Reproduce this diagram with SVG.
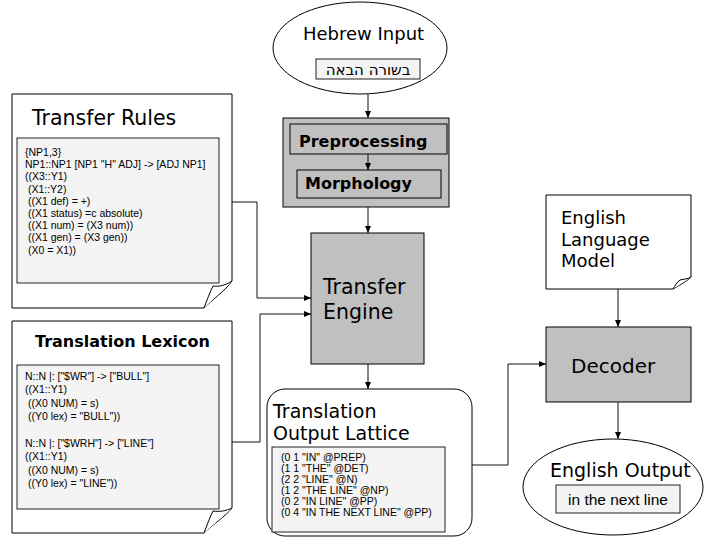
<svg xmlns="http://www.w3.org/2000/svg" width="704" height="539" viewBox="0 0 704 539">
<style>
.shape{stroke:#000;stroke-width:1;fill:#fff}
.gray{fill:#c0c0c0;stroke:#000;stroke-width:1}
.inner{fill:#f4f4f4;stroke:#222;stroke-width:1}
.fold{fill:#fff;stroke:#000;stroke-width:1}
.conn{fill:none;stroke:#111;stroke-width:1}
.big{font-family:"DejaVu Sans",Verdana,sans-serif;fill:#000}
.bold{font-family:"DejaVu Sans",Verdana,sans-serif;font-weight:bold;fill:#000}
.code{font-family:"Liberation Sans",Arial,sans-serif;font-size:10.5px;fill:#000}
</style>
<defs>
<marker id="arr" viewBox="0 0 7 6" refX="7" refY="3" markerWidth="7" markerHeight="6" markerUnits="userSpaceOnUse" orient="auto">
<path d="M0,0 L7,3 L0,6 z" fill="#000"/>
</marker>
</defs>

<g id="hebrew-input">
<ellipse class="shape" cx="360" cy="48" rx="87" ry="46"/>
<text class="big" x="303" y="40" font-size="18">Hebrew Input</text>
<rect class="inner" x="316" y="59" width="104" height="20"/>
<text class="big" x="368" y="75" font-size="15" text-anchor="middle">בשורה הבאה</text>
</g>

<g id="preprocessing-morphology">
<rect class="gray" x="283" y="118" width="166" height="89"/>
<rect class="gray" x="290" y="124" width="157" height="30"/>
<text class="bold" x="299" y="147" font-size="16">Preprocessing</text>
<rect class="gray" x="297" y="170" width="144" height="28"/>
<text class="bold" x="305" y="189" font-size="16">Morphology</text>
</g>

<g id="transfer-rules">
<path class="shape" d="M12,94 H232 V281 C226,290 212,300 204,308 H12 Z"/>
<text class="big" x="32" y="125" font-size="20.5">Transfer Rules</text>
<rect class="inner" x="17" y="138" width="202" height="145"/>
<path class="fold" d="M204,308 C207,300 210,292 213,286 C219,287 226,285 232,281"/>
<text class="code" x="25" y="156">{NP1,3}</text>
<text class="code" x="25" y="168.2">NP1::NP1 [NP1 "H" ADJ] -&gt; [ADJ NP1]</text>
<text class="code" x="25" y="180.4">((X3::Y1)</text>
<text class="code" x="25" y="192.6" xml:space="preserve"> (X1::Y2)</text>
<text class="code" x="25" y="204.8" xml:space="preserve"> ((X1 def) = +)</text>
<text class="code" x="25" y="217" xml:space="preserve"> ((X1 status) =c absolute)</text>
<text class="code" x="25" y="229.2" xml:space="preserve"> ((X1 num) = (X3 num))</text>
<text class="code" x="25" y="241.4" xml:space="preserve"> ((X1 gen) = (X3 gen))</text>
<text class="code" x="25" y="253.6" xml:space="preserve"> (X0 = X1))</text>
</g>

<g id="translation-lexicon">
<path class="shape" d="M12,321 H232 V508 C226,516 212,525 204,533 H12 Z"/>
<text class="bold" x="35" y="347" font-size="16">Translation Lexicon</text>
<rect class="inner" x="17" y="365" width="202" height="144"/>
<path class="fold" d="M204,533 C207,525 210,517 213,511 C219,512 226,511 232,508"/>
<text class="code" x="25" y="380">N::N |: ["$WR"] -&gt; ["BULL"]</text>
<text class="code" x="25" y="393.4">((X1::Y1)</text>
<text class="code" x="25" y="406.8" xml:space="preserve"> ((X0 NUM) = s)</text>
<text class="code" x="25" y="420.2" xml:space="preserve"> ((Y0 lex) = "BULL"))</text>
<text class="code" x="25" y="447">N::N |: ["$WRH"] -&gt; ["LINE"]</text>
<text class="code" x="25" y="460.4">((X1::Y1)</text>
<text class="code" x="25" y="473.8" xml:space="preserve"> ((X0 NUM) = s)</text>
<text class="code" x="25" y="487.2" xml:space="preserve"> ((Y0 lex) = "LINE"))</text>
</g>

<g id="transfer-engine">
<rect class="gray" x="311" y="233" width="113" height="131"/>
<text class="big" x="323" y="294" font-size="20.5">Transfer</text>
<text class="big" x="323" y="319" font-size="20.5">Engine</text>
</g>

<g id="output-lattice">
<rect class="shape" x="267" y="389" width="205" height="147" rx="18" ry="18"/>
<text class="big" x="273" y="418" font-size="19">Translation</text>
<text class="big" x="273" y="440" font-size="19">Output Lattice</text>
<rect class="inner" x="272" y="447" width="173" height="85"/>
<text class="code" x="281" y="461">(0 1 "IN" @PREP)</text>
<text class="code" x="281" y="471.9">(1 1 "THE" @DET)</text>
<text class="code" x="281" y="482.8">(2 2 "LINE" @N)</text>
<text class="code" x="281" y="493.7">(1 2 "THE LINE" @NP)</text>
<text class="code" x="281" y="504.6">(0 2 "IN LINE" @PP)</text>
<text class="code" x="281" y="515.5">(0 4 "IN THE NEXT LINE" @PP)</text>
</g>

<g id="english-language-model">
<path class="shape" d="M546,195 H691 V277 C686,282 678,286 673,289 H546 Z"/>
<path class="fold" d="M673,289 C675,286 677,282 680,280 C684,279 688,279 691,277"/>
<text class="big" x="561" y="224" font-size="18">English</text>
<text class="big" x="561" y="246" font-size="18">Language</text>
<text class="big" x="561" y="267" font-size="18">Model</text>
</g>

<g id="decoder">
<rect class="gray" x="546" y="327" width="145" height="75"/>
<text class="big" x="571" y="373" font-size="20">Decoder</text>
</g>

<g id="english-output">
<ellipse class="shape" cx="613" cy="487" rx="90" ry="48"/>
<text class="big" x="550" y="477" font-size="19">English Output</text>
<rect class="inner" x="556" y="485" width="124" height="28"/>
<text class="code" x="618" y="505" text-anchor="middle" style="font-size:15.5px">in the next line</text>
</g>

<g id="connectors">
<path class="conn" marker-end="url(#arr)" d="M368,94 V118"/>
<path class="conn" marker-end="url(#arr)" d="M368,154 V170"/>
<path class="conn" marker-end="url(#arr)" d="M368,207 V233"/>
<path class="conn" marker-end="url(#arr)" d="M232,202 H257 V298 H311"/>
<path class="conn" marker-end="url(#arr)" d="M232,442 H260 V314 H311"/>
<path class="conn" marker-end="url(#arr)" d="M368,364 V389"/>
<path class="conn" marker-end="url(#arr)" d="M472,465 H508 V364 H546"/>
<path class="conn" marker-end="url(#arr)" d="M618,289 V327"/>
<path class="conn" marker-end="url(#arr)" d="M618,402 V439"/>
</g>
</svg>
